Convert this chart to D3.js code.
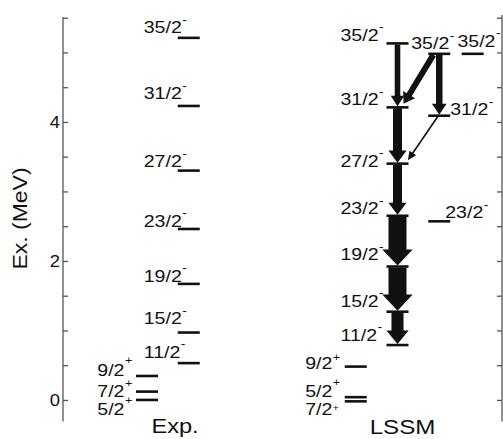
<!DOCTYPE html>
<html><head><meta charset="utf-8">
<script src="https://cdn.jsdelivr.net/npm/d3@7"></script>
<style>body{margin:0;background:#fff}svg{display:block}</style>
</head><body>
<svg id="c" width="503" height="439"></svg>
<script>
// ---------------- DATA ----------------
const expSpins    = ["5/2","7/2","9/2","11/2","15/2","19/2","23/2","27/2","31/2","35/2"];
const expParity   = ["+","+","+","-","-","-","-","-","-","-"];
const expEnergies = [0.00, 0.12, 0.345, 0.53, 0.97, 1.67, 2.46, 3.30, 4.23, 5.21];
const expColumn   = ["Exp+","Exp+","Exp+","Exp-","Exp-","Exp-","Exp-","Exp-","Exp-","Exp-"];

const lssmSpins    = ["7/2","5/2","9/2","11/2","15/2","19/2","23/2","27/2","31/2","35/2","31/2","23/2","35/2","35/2"];
const lssmParity   = ["+","+","+","-","-","-","-","-","-","-","-","-","-","-"];
const lssmEnergies = [-0.02, 0.04, 0.48, 0.79, 1.27, 1.92, 2.65, 3.40, 4.21, 5.13, 4.09, 2.57, 4.98, 4.98];
const lssmColumn   = ["LSSM+","LSSM+","LSSM+","LSSM","LSSM","LSSM","LSSM","LSSM","LSSM","LSSM","LSSM-b","LSSM-b","LSSM-b","LSSM-c"];

// transitions (indices into LSSM levels) and relative intensities
const transFrom      = [9, 12, 12, 10, 8, 7, 6, 5, 4];
const transTo        = [8, 8, 10, 7, 7, 6, 5, 4, 3];
const transIntensity = [31, 33, 36, 9, 50, 50, 100, 100, 67];

const yTicks      = [0,0.5,1,1.5,2,2.5,3,3.5,4,4.5,5,5.5];
const yTickLabels = [0, 2, 4];
const yTitle = "Ex. (MeV)";
const panelTitles = ["Exp.", "LSSM"];

// ---------------- LAYOUT ----------------
const W = 503, H = 439, SX = 1.15;
const FONT = "'Liberation Sans', Arial, Helvetica, sans-serif";
const colSlot = {"Exp+":0, "Exp-":1, "LSSM+":5, "LSSM":6, "LSSM-b":7, "LSSM-c":7.8};
const x = d3.scaleLinear().domain([0, 8]).range([147, 481]);
const y = d3.scaleLinear().domain([-0.31, 5.51]).range([421.5, 17]);
const halfLen = 11;

const expLabelDx = [-49.7,-49.7,-49.7,-45,-45,-45,-45,-45,-45,-45];
const expLabelDy = [15, 5, 0, -5.6, -8.6, -2.2, -2.3, -3.3, -7, -4.6];
const expSupDy   = [-11.4, -9.8, -12.4, -9.4,-9.4,-9.4,-9.4,-9.4,-9.4,-9.4];
const lssmLabelDx = [-50.5,-50.5,-50.5,-57,-57,-57,-57,-57,-57,-57, 11, 6, -28, -15.2];
const lssmLabelDy = [13.6,-0.5,2.7,-4.4,-5,-6.6,-1.8,3,-2.4,-2.8,-0.7,-3.1,-4.6,-7.2];
const lssmSupDy   = [-3.7,-11.1,-8.4,-9.4,-9.4,-9.4,-9.4,-9.4,-9.4,-9.4,-9.4,-9.4,-9.4,-9.4];

const svg = d3.select("#c");
const ink = "#111";

function stext(px, py, rot, size, anchor, str) {
  return svg.append("text")
    .attr("transform", `translate(${px},${py}) rotate(${rot}) scale(${SX},1)`)
    .attr("font-family", FONT).attr("font-size", size)
    .attr("text-anchor", anchor).attr("fill", ink)
    .text(str);
}

// ---------------- AXES ----------------
const axisColor = "#555";
const left = svg.append("g").attr("transform", "translate(63,0)");
left.call(d3.axisRight(y).tickValues(yTicks).tickSize(5).tickFormat(""));
const right = svg.append("g").attr("transform", "translate(502,0)");
right.call(d3.axisLeft(y).tickValues(yTicks).tickSize(5).tickFormat(""));
[left, right].forEach(g => {
  g.select(".domain").attr("stroke", axisColor).attr("stroke-width", 1.3)
   .attr("d", g === left ? `M0,${y.range()[0]}V${y.range()[1]}` : `M0,${y.range()[0]}V${y.range()[1]-2}`);
  g.selectAll(".tick line").attr("stroke", axisColor).attr("stroke-width", 1.3);
});
yTickLabels.forEach(v => {
  stext(60, y(v) + 5.8, 0, 16, "end", String(v));
});
stext(27, 218.5, -90, 20, "middle", yTitle);

// ---------------- LEVELS ----------------
function drawLevels(spins, parity, energies, cols, ldx, ldy, sdy) {
  spins.forEach((s, i) => {
    const cx = x(colSlot[cols[i]]), cy = y(energies[i]);
    svg.append("line")
      .attr("x1", cx - halfLen).attr("x2", cx + halfLen)
      .attr("y1", cy).attr("y2", cy)
      .attr("stroke", ink).attr("stroke-width", 2.6);
    const t = svg.append("text")
      .attr("transform", `translate(${cx + ldx[i]},${cy + ldy[i]}) scale(${SX},1)`)
      .attr("font-family", FONT).attr("font-size", 17).attr("fill", ink);
    t.append("tspan").text(s);
    const plus = parity[i] === "+";
    const small = plus && sdy[i] > -6;
    t.append("tspan").attr("dy", sdy[i]).attr("dx", 0.4)
      .attr("font-size", plus ? (small ? 9 : 11) : 12).text(parity[i]);
  });
}
drawLevels(expSpins, expParity, expEnergies, expColumn, expLabelDx, expLabelDy, expSupDy);
drawLevels(lssmSpins, lssmParity, lssmEnergies, lssmColumn, lssmLabelDx, lssmLabelDy, lssmSupDy);

// ---------------- TRANSITIONS ----------------
const wScale = d3.scaleLinear().domain([0, 100]).range([0, 18]);
function arrowPath(sx, sy, tx, ty, w, hw, hl) {
  const dx = tx - sx, dy = ty - sy, L = Math.hypot(dx, dy);
  const ux = dx / L, uy = dy / L, nx = -uy, ny = ux;
  const bx = tx - ux * hl, by = ty - uy * hl;
  const p = [
    [sx + nx*w/2, sy + ny*w/2], [bx + nx*w/2, by + ny*w/2], [bx + nx*hw/2, by + ny*hw/2],
    [tx, ty],
    [bx - nx*hw/2, by - ny*hw/2], [bx - nx*w/2, by - ny*w/2], [sx - nx*w/2, sy - ny*w/2]
  ];
  return "M" + p.map(q => q[0].toFixed(2) + "," + q[1].toFixed(2)).join("L") + "Z";
}
transFrom.forEach((f, i) => {
  const to = transTo[i];
  const w = wScale(transIntensity[i]);
  const hw = w * 1.35 + 6, hl = 8 + w * 0.45;
  const xf = x(colSlot[lssmColumn[f]]), xt = x(colSlot[lssmColumn[to]]);
  let sx, sy, tx, ty;
  if (lssmColumn[f] === lssmColumn[to]) {
    sx = xf; tx = xt; sy = y(lssmEnergies[f]) + 1; ty = y(lssmEnergies[to]) - 1;
  } else {
    sx = xf - w; sy = y(lssmEnergies[f]) + 1;
    tx = xt + 12 - w; ty = y(lssmEnergies[to]) - 3.5;
  }
  svg.append("path").attr("d", arrowPath(sx, sy, tx, ty, w, hw, hl)).attr("fill", ink);
});

// ---------------- PANEL TITLES ----------------
stext(175, 433, 0, 20.5, "middle", panelTitles[0]);
stext(402.5, 434, 0, 21, "middle", panelTitles[1]);
</script>
</body></html>
